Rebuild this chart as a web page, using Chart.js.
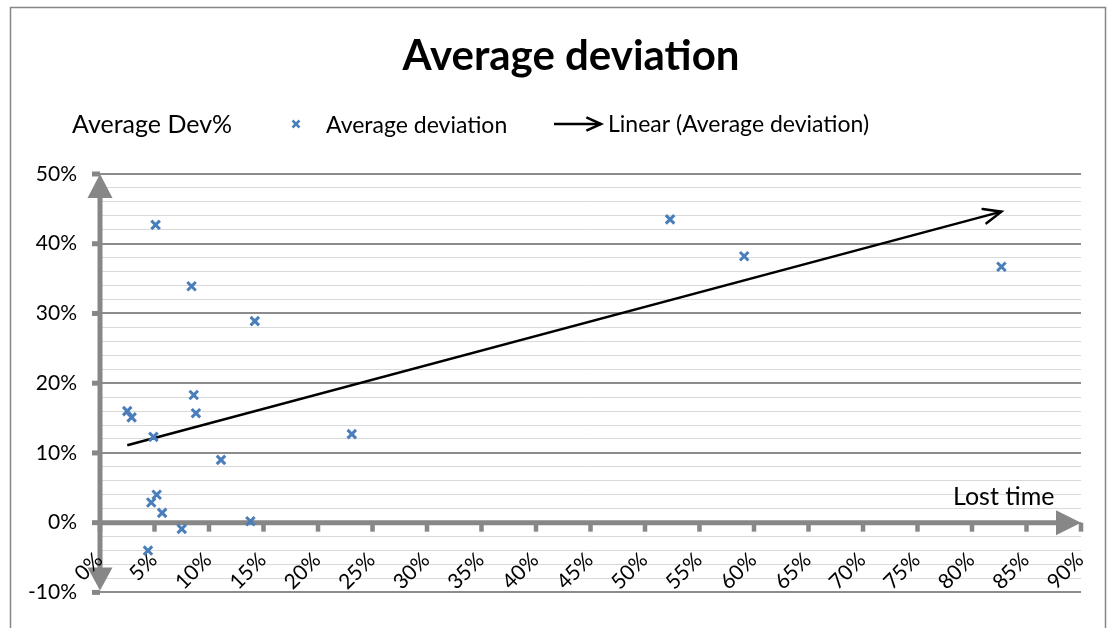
<!DOCTYPE html>
<html>
<head>
<meta charset="utf-8">
<title>Average deviation</title>
<script src="https://cdn.jsdelivr.net/npm/chart.js@4.4.1/dist/chart.umd.min.js"></script>
<style>
  html, body { margin: 0; padding: 0; background: #fff; }
  canvas { display: block; }
</style>
</head>
<body>
<canvas id="chart" width="1117" height="628"></canvas>
<script>
// lost time (%) and average deviation (%) for each case
const lostTime = [2.5, 2.9, 4.9, 8.6, 8.8, 11.1, 23.1, 4.7, 5.2, 5.7, 7.5, 13.8, 4.4, 5.1, 8.4, 14.2, 52.3, 59.1, 82.7];
const avgDev   = [16.0, 15.1, 12.3, 18.3, 15.7, 9.0, 12.7, 2.9, 4.0, 1.4, -0.9, 0.2, -4.0, 42.7, 33.9, 28.9, 43.5, 38.2, 36.7];

// ends of the linear trendline as drawn
const trendX = [2.5, 82.7];
const trendY = [11.1, 44.6];

// axis ticks
const xTickValues = [0, 5, 10, 15, 20, 25, 30, 35, 40, 45, 50, 55, 60, 65, 70, 75, 80, 85, 90];
const yMajorTicks = [-10, 0, 10, 20, 30, 40, 50];

const FONT = 'Lato, "Open Sans", sans-serif';
const AXIS_GREY = '#878787';
const MARKER_BLUE = '#4a7ebb';

function triangle(ctx, ax, ay, bx, by, cx, cy) {
  ctx.beginPath();
  ctx.moveTo(ax, ay);
  ctx.lineTo(bx, by);
  ctx.lineTo(cx, cy);
  ctx.closePath();
  ctx.fill();
}

function arrowHead(ctx, x1, y1, x2, y2, len, spread) {
  const a = Math.atan2(y2 - y1, x2 - x1);
  ctx.beginPath();
  ctx.moveTo(x2 - len * Math.cos(a - spread), y2 - len * Math.sin(a - spread));
  ctx.lineTo(x2, y2);
  ctx.lineTo(x2 - len * Math.cos(a + spread), y2 - len * Math.sin(a + spread));
  ctx.stroke();
}

// excel-like decorations: border, axes through zero with arrows, labels, legend
const excelDecor = {
  id: 'excelDecor',
  beforeDraw(chart) {
    const ctx = chart.ctx;
    ctx.save();
    ctx.fillStyle = '#fff';
    ctx.fillRect(0, 0, chart.width, chart.height);
    ctx.strokeStyle = '#868686';
    ctx.lineWidth = 1.5;
    ctx.strokeRect(10.5, 7.5, 1095, 700);
    ctx.restore();
  },
  beforeDatasetsDraw(chart) {
    const { ctx, chartArea, scales: { x, y } } = chart;
    const x0 = x.getPixelForValue(0);
    const y0 = y.getPixelForValue(0);
    ctx.save();
    ctx.fillStyle = AXIS_GREY;
    ctx.strokeStyle = AXIS_GREY;

    // tick stubs
    yMajorTicks.forEach(v => {
      const py = y.getPixelForValue(v);
      ctx.fillRect(x0 - 8, py - 2.5, 8, 5);
    });
    xTickValues.forEach(v => {
      const px = x.getPixelForValue(v);
      ctx.fillRect(px - 2.25, y0, 4.5, 9);
    });

    // axis lines
    ctx.lineWidth = 5;
    ctx.beginPath();
    ctx.moveTo(x0, chartArea.top + 22);
    ctx.lineTo(x0, chartArea.bottom - 22);
    ctx.moveTo(x0, y0);
    ctx.lineTo(chartArea.right - 22, y0);
    ctx.stroke();

    // arrows
    triangle(ctx, x0, chartArea.top, x0 - 12.5, chartArea.top + 24, x0 + 12.5, chartArea.top + 24);
    triangle(ctx, x0, chartArea.bottom - 2, x0 - 12.5, chartArea.bottom - 25, x0 + 12.5, chartArea.bottom - 25);
    triangle(ctx, chartArea.right, y0, chartArea.right - 25, y0 - 12.5, chartArea.right - 25, y0 + 12.5);

    // rotated x tick labels hanging below the zero line
    ctx.fillStyle = '#000';
    ctx.font = `21px ${FONT}`;
    ctx.textAlign = 'right';
    ctx.textBaseline = 'middle';
    xTickValues.forEach(v => {
      const px = x.getPixelForValue(v);
      ctx.save();
      ctx.translate(px - 1, y0 + 34);
      ctx.rotate(-Math.PI / 4);
      ctx.fillText(v + '%', 0, 0);
      ctx.restore();
    });
    ctx.restore();
  },
  afterDatasetsDraw(chart) {
    // arrow at the end of the trendline
    const ctx = chart.ctx;
    const pts = chart.getDatasetMeta(1).data;
    const a = pts[pts.length - 2];
    const b = pts[pts.length - 1];
    ctx.save();
    ctx.strokeStyle = '#000';
    ctx.lineWidth = 2.5;
    ctx.lineCap = 'round';
    arrowHead(ctx, a.x, a.y, b.x, b.y, 19, 0.4);
    ctx.restore();
  },
  afterDraw(chart) {
    const ctx = chart.ctx;
    const sets = chart.data.datasets;
    ctx.save();
    ctx.fillStyle = '#000';
    ctx.textBaseline = 'alphabetic';

    // title
    ctx.textAlign = 'center';
    ctx.font = `bold 42px ${FONT}`;
    ctx.fillText('Average deviation', 571, 70);

    // axis titles
    ctx.textAlign = 'left';
    ctx.font = `25px ${FONT}`;
    ctx.fillText('Average Dev%', 72, 133);
    ctx.fillText('Lost time', 953, 505);

    // legend
    ctx.font = `23px ${FONT}`;
    ctx.strokeStyle = MARKER_BLUE;
    ctx.lineWidth = 2.5;
    ctx.beginPath();
    ctx.moveTo(292.5, 120.5); ctx.lineTo(299.5, 127.5);
    ctx.moveTo(299.5, 120.5); ctx.lineTo(292.5, 127.5);
    ctx.stroke();
    ctx.fillText(sets[0].label, 326, 133);

    ctx.strokeStyle = '#000';
    ctx.lineWidth = 2.5;
    ctx.beginPath();
    ctx.moveTo(554, 124);
    ctx.lineTo(601, 124);
    ctx.stroke();
    arrowHead(ctx, 554, 124, 601, 124, 16, 0.42);
    ctx.fillText(sets[1].label, 608, 132);
    ctx.restore();
  }
};

new Chart(document.getElementById('chart'), {
  type: 'scatter',
  data: {
    datasets: [
      {
        label: 'Average deviation',
        data: lostTime.map((v, i) => ({ x: v, y: avgDev[i] })),
        pointStyle: 'crossRot',
        pointRadius: 6,
        pointBorderWidth: 3,
        borderColor: MARKER_BLUE,
        backgroundColor: MARKER_BLUE
      },
      {
        label: 'Linear (Average deviation)',
        data: trendX.map((v, i) => ({ x: v, y: trendY[i] })),
        showLine: true,
        borderColor: '#000',
        borderWidth: 2.5,
        pointRadius: 0
      }
    ]
  },
  options: {
    responsive: false,
    devicePixelRatio: 1,
    animation: false,
    events: [],
    layout: { padding: { top: 174, right: 36, bottom: 24, left: 0 } },
    plugins: {
      legend: { display: false },
      title: { display: false },
      tooltip: { enabled: false }
    },
    scales: {
      x: {
        type: 'linear',
        min: 0,
        max: 90,
        display: false
      },
      y: {
        min: -10,
        max: 50,
        afterFit(scale) { scale.width = 100; },
        border: { display: false },
        grid: {
          drawTicks: false,
          color: c => (c.tick && c.tick.value % 10 === 0) ? '#8c8c8c' : '#d9d9d9',
          lineWidth: c => (c.tick && c.tick.value % 10 === 0) ? 2 : 1
        },
        ticks: {
          stepSize: 2,
          autoSkip: false,
          padding: 23,
          color: '#000',
          font: { family: FONT, size: 21 },
          callback: v => (v % 10 === 0) ? v + '%' : ''
        }
      }
    }
  },
  plugins: [excelDecor]
});
</script>
</body>
</html>
